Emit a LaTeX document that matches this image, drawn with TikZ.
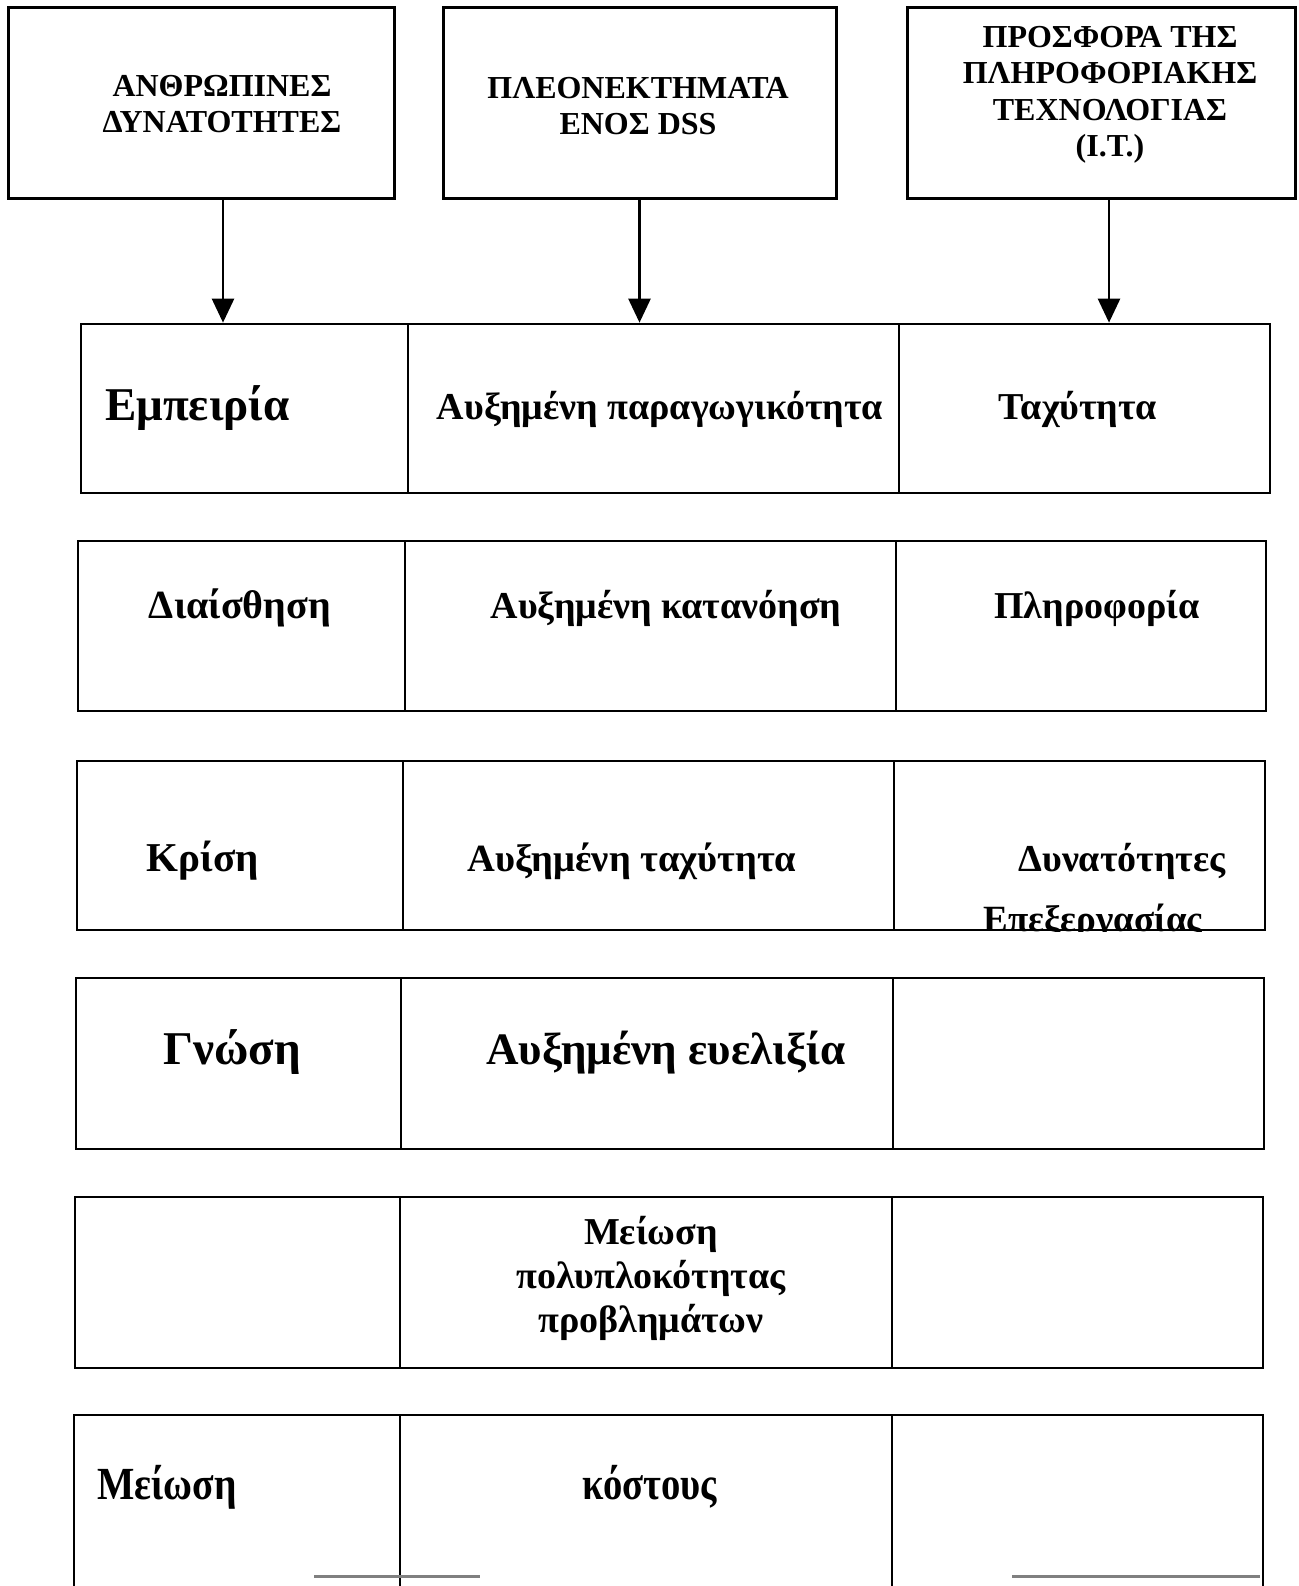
\documentclass[tikz,border=0pt]{standalone}
\usepackage{fontspec}
\setmainfont{Liberation Serif}
\usepackage{graphicx}
\usetikzlibrary{fit,arrows.meta}

% one row of three framed cells: name prefix, top, bottom, four x borders
\newcommand{\cellrow}[7]{%
  \node[cellbox, fit={(#4,#2) (#5,#3)}] (#1a) {};
  \node[cellbox, fit={(#5,#2) (#6,#3)}] (#1b) {};
  \node[cellbox, fit={(#6,#2) (#7,#3)}] (#1c) {};
}
\newcommand{\fs}[1]{\fontsize{#1}{1.2\dimexpr #1pt\relax}\selectfont}

\begin{document}
\begin{tikzpicture}[x=1pt,y=-1pt,
  hbox/.style={draw=black, line width=3pt, inner sep=0pt},
  cellbox/.style={draw=black, line width=2.7pt, inner sep=0pt},
  htext/.style={font=\bfseries\fontsize{32}{36.5}\selectfont, align=center, inner sep=0pt},
  ctext/.style={font=\bfseries\fontsize{38}{44}\selectfont, align=center, inner sep=0pt, anchor=base},
  btext/.style={font=\bfseries\fontsize{46}{50}\selectfont, inner sep=0pt, anchor=base},
  link/.style={-{Triangle[length=24pt,width=22pt]}, line width=2.6pt}
]
\clip (0,0) rectangle (1298,1586);
\fill[white] (0,0) rectangle (1298,1586);

% header boxes
\node[hbox, fit={(8,8) (394,199)}] (h1) {};
\node[hbox, fit={(443,8) (836,199)}] (h2) {};
\node[hbox, fit={(907,8) (1295,199)}] (h3) {};
\node[htext] (h1t) at (222,104) {ΑΝΘΡΩΠΙΝΕΣ\\ΔΥΝΑΤΟΤΗΤΕΣ};
\node[htext] (h2t) at (638,106) {ΠΛΕΟΝΕΚΤΗΜΑΤΑ\\ΕΝΟΣ DSS};
\node[htext] (h3t) at (1110,95) {ΠΡΟΣΦΟΡΑ ΤΗΣ\\ΠΛΗΡΟΦΟΡΙΑΚΗΣ\\ΤΕΧΝΟΛΟΓΙΑΣ\\(I.T.)};

% rows of cells
\cellrow{r1}{324}{493}{81}{408}{899}{1270}
\cellrow{r2}{541}{711}{78}{405}{896}{1266}
\cellrow{r3}{761}{930}{77}{403}{894}{1265}
\cellrow{r4}{978}{1149}{76}{401}{893}{1264}
\cellrow{r5}{1197}{1368}{75}{400}{892}{1263}
\cellrow{r6}{1415}{1620}{74}{400}{892}{1263}

% arrows from headers into the first row
\draw[link] ([xshift=22pt]h1.south) -- ([xshift=22pt]h1.south |- r1a.north);
\draw[link] (h2.south) -- (h2.south |- r1b.north);
\draw[link] ([xshift=8pt]h3.south) -- ([xshift=8pt]h3.south |- r1c.north);

% row 1
\node[btext, anchor=base west, font=\bfseries\fs{47}] (t1a) at (105,420) {Εμπειρία};
\node[ctext] (t1b) at (660,419) {Αυξημένη παραγωγικότητα};
\node[ctext] (t1c) at (1078,419) {Ταχύτητα};
% row 2
\node[ctext, font=\bfseries\fs{40}] (t2a) at (240,618) {Διαίσθηση};
\node[ctext] (t2b) at (666,618) {Αυξημένη κατανόηση};
\node[ctext] (t2c) at (1097,618) {Πληροφορία};
% row 3
\node[ctext, font=\bfseries\fs{41}] (t3a) at (203,871) {Κρίση};
\node[ctext, font=\bfseries\fs{38.5}] (t3b) at (632,871) {Αυξημένη ταχύτητα};
\node[ctext] (t3c) at (1122,871) {Δυνατότητες};
\begin{scope}
  \clip (r3c.north west) rectangle (r3c.south east);
  \node[ctext, font=\bfseries\fs{37}] (t3d) at (1093,931) {Επεξεργασίας};
\end{scope}
% row 4
\node[btext, font=\bfseries\fs{47}] (t4a) at (232,1064) {Γνώση};
\node[ctext, font=\bfseries\fs{45}] (t4b) at (666,1064) {Αυξημένη ευελιξία};
% row 5
\node[ctext, anchor=center] (t5b) at (651,1278) {Μείωση\\πολυπλοκότητας\\προβλημάτων};
% row 6
\node[btext, anchor=base west] (t6a) at (97,1499) {\scalebox{0.86}[1]{Μείωση}};
\node[btext] (t6b) at (650,1499) {\scalebox{0.84}[1]{κόστους}};

% worn pieces of a lower rule
\draw[gray, line width=3pt] (314,1576) -- (480,1576);
\draw[gray, line width=3pt] (1012,1576) -- (1260,1576);
\end{tikzpicture}
\end{document}
